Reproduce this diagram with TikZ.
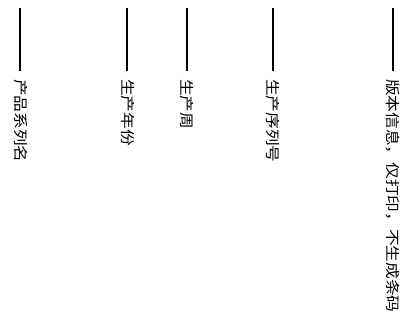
\documentclass[tikz,border=0pt]{standalone}
\usepackage{fontspec}
\newfontfamily\cjk{Noto Sans CJK SC}
\usepackage{graphicx}
\begin{document}
\begin{tikzpicture}[x=1pt,y=-1pt,
  bar/.style={line width=2pt, black},
  lbl/.style={rotate=-90, anchor=west, inner sep=0pt, font=\cjk\fontsize{14.5}{14.5}\selectfont}]
\useasboundingbox (0,0) rectangle (403,321);
\foreach \n/\x in {a/20,b/127,c/187,d/273,e/393} {
  \coordinate (\n top) at (\x,8.5);
  \coordinate (\n bot) at (\x,71);
  \draw[bar] (\n top) -- (\n bot);
}
\node[lbl] (ta) at (20.5,79) {\scalebox{1.15}[1]{产品系列名}};
\node[lbl] (tb) at (127.5,79) {\scalebox{1.15}[1]{生产年份}};
\node[lbl] (tc) at (187,79) {\scalebox{1.15}[1]{生产周}};
\node[lbl] (td) at (273,79) {\scalebox{1.15}[1]{生产序列号}};
\node[lbl] (te) at (393,79) {\scalebox{1.15}[1]{版本信息，仅打印，不生成条码}};
\end{tikzpicture}
\end{document}
